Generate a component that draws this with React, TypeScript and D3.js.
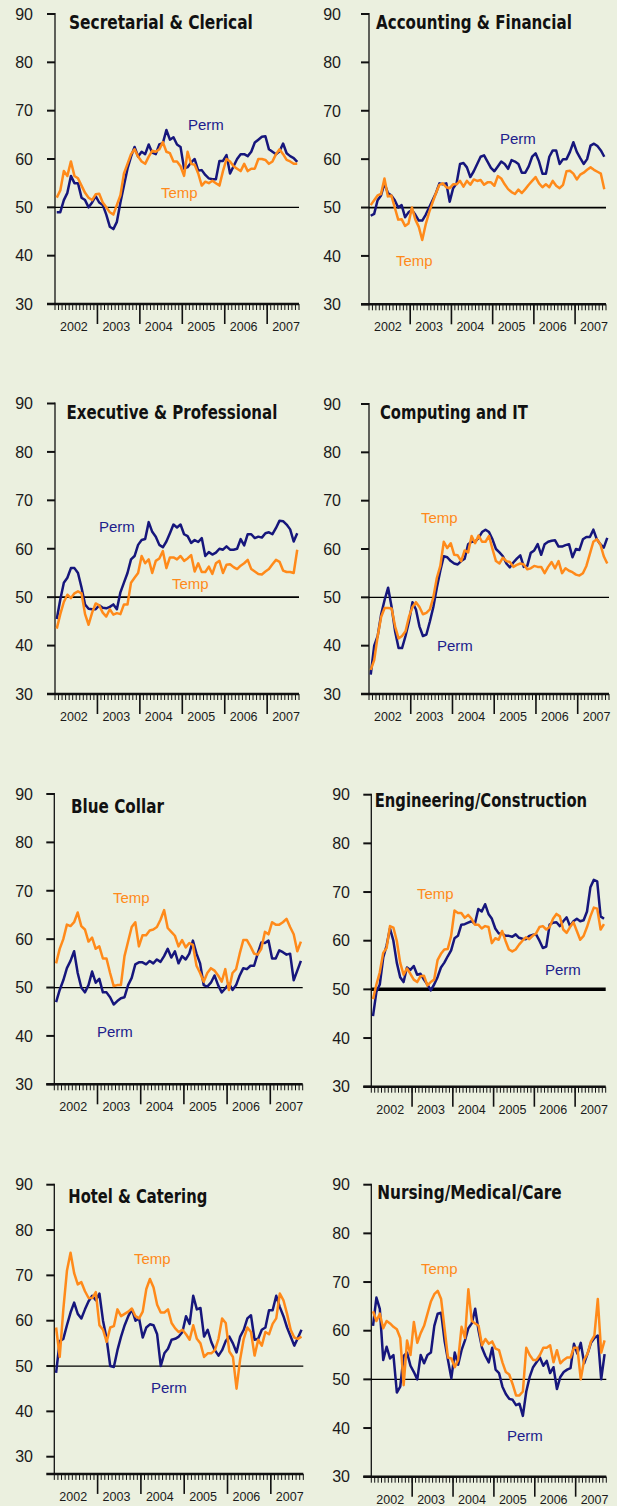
import React, { useEffect, useRef } from "react";
import * as d3 from "d3";

// Jan 2002 .. Sep 2007, one value per month (69)
const months = d3.timeMonth.range(new Date(2002, 0, 1), new Date(2007, 9, 1));
const years = ["2002", "2003", "2004", "2005", "2006", "2007"];
const yTicks = [30, 40, 50, 60, 70, 80, 90];

const titles = [
  "Secretarial & Clerical",
  "Accounting & Financial",
  "Executive & Professional",
  "Computing and IT",
  "Blue Collar",
  "Engineering/Construction",
  "Hotel & Catering",
  "Nursing/Medical/Care",
];

const permSecretarial = [49, 49, 51.5, 53, 56.5, 55, 55, 52, 51.5, 50, 51, 52.3, 51, 50.5, 48.5, 46, 45.5, 47, 51, 54.5, 58, 60.5, 62.5, 60.5, 61.5, 61, 63, 61.3, 61, 63, 63.3, 66, 64, 64.5, 63, 62.5, 58, 58.3, 59.3, 60, 57.6, 57.7, 56.7, 56, 55.8, 55.8, 59.6, 59.6, 60.8, 57, 58.5, 60, 61, 61, 60.6, 61.5, 63.4, 64, 64.6, 64.7, 62, 61.5, 61, 61.6, 63.2, 61.2, 60.6, 60.2, 59.4];
const tempSecretarial = [52, 53.5, 57.5, 56.5, 59.5, 56.5, 56, 54.5, 53, 52, 51.5, 52.7, 52.8, 51, 50, 49, 48.5, 50.5, 52.5, 57, 59, 61, 62, 60.5, 59.5, 59, 60.5, 61.7, 61.5, 62, 63.5, 61.5, 61.2, 59.5, 59.5, 58.5, 56.5, 61.5, 59, 58.8, 57, 54.5, 55.3, 55, 55.5, 55, 54.5, 57.5, 60, 59.5, 58.5, 58, 57.5, 59, 57.5, 58, 58, 60, 60, 59.8, 59, 59.5, 61, 62, 61, 59.8, 59.5, 59, 59];

const permAccounting = [48.3, 48.7, 51.5, 52.5, 55, 53, 52.5, 51.5, 50, 50.5, 48, 49, 49.5, 48.5, 47.3, 47.3, 48.5, 50, 51.5, 53, 55, 54.8, 55, 51.2, 54, 55, 59, 59.2, 58.3, 56.3, 57.5, 59, 60.5, 60.8, 59.5, 58.2, 57.5, 58.5, 59.5, 59, 58, 59.8, 59.5, 59, 57.2, 57.2, 58.5, 60.5, 61.2, 59.5, 57, 57, 60.5, 61.8, 61.8, 59, 60, 60, 61.5, 63.5, 61.5, 60.2, 59, 60, 62.8, 63.2, 62.7, 61.8, 60.5];
const tempAccounting = [50.5, 51.5, 52.5, 52.8, 56, 52.3, 52.5, 50, 47.5, 47.6, 46.2, 46.7, 50, 47.5, 46, 43.3, 46.5, 49, 51, 53, 54.7, 55, 54.2, 54, 54.8, 54.8, 55.5, 54.3, 55.5, 54.7, 55.8, 55.5, 55.7, 54.7, 55.2, 55.2, 54.5, 56.5, 56, 54.8, 53.8, 53.2, 52.8, 53.7, 53, 53.8, 54.7, 55.5, 56.3, 55, 54.2, 54.8, 54.2, 55.5, 54.5, 54, 54.7, 57.5, 57.6, 57, 55.8, 56.8, 57.2, 57.8, 58.3, 57.8, 57.4, 57, 53.8];

const permExecutive = [45.5, 49.5, 53, 54, 56, 56, 55, 52, 48.5, 47.6, 47.5, 47.5, 48.3, 47.8, 47.7, 48, 48.5, 47.5, 51, 53, 55, 57.8, 58.5, 60.8, 61.8, 62, 65.5, 63.5, 62.5, 60.8, 60.3, 61.5, 63.2, 65, 64.4, 65, 63, 62.6, 61.2, 61.8, 61.4, 62.2, 58.5, 59.3, 58.8, 59.2, 60, 59.8, 60.5, 59.8, 59.8, 60, 62, 60.7, 63, 63, 62.2, 62.5, 62.3, 63.2, 63.4, 63, 64.3, 65.8, 65.7, 65, 64, 61.5, 63.2];
const tempExecutive = [43.5, 46.5, 49, 50.5, 49.8, 50.8, 51.2, 50.8, 46.5, 44.3, 46.8, 48.7, 48.3, 46.8, 46, 47.5, 46.4, 46.7, 46.5, 48.5, 48.5, 53, 54, 55, 58.5, 57, 57.8, 55, 57.5, 58, 59.5, 56, 58.2, 58.2, 57.8, 58.5, 57.5, 58, 58.7, 55.3, 57, 55.2, 55.2, 56.3, 54.8, 57, 57.5, 55, 56.7, 56.8, 56.2, 55.8, 56.5, 57, 57.7, 55.8, 55.3, 54.8, 54.7, 55.3, 55.8, 56.8, 57.7, 57.3, 55.5, 55.2, 55.2, 55, 59.8];

const permComputing = [34, 40, 42, 46.5, 49.5, 52, 48, 43, 39.5, 39.5, 42, 45, 49, 47.5, 44, 42, 42.3, 45, 48, 52, 55.5, 58.5, 58.3, 57.5, 57, 56.8, 57.5, 58, 61, 61.5, 61.5, 62.3, 63.5, 64, 63.5, 62, 60, 59.3, 58.5, 57, 56.2, 57.2, 58, 58.7, 56.3, 56.5, 59.2, 59.7, 61, 58.8, 61, 61.5, 61.7, 61.8, 60.5, 60.5, 60.8, 61, 58.3, 60, 59.8, 62, 62.5, 62.5, 64, 62, 61, 60.3, 62.3];
const tempComputing = [35, 37, 42, 46, 47.8, 47.8, 47.7, 44, 41.5, 42, 43, 46, 48, 49, 48, 46.5, 46.8, 47.5, 50, 54, 56.5, 61.5, 60.2, 61.2, 58.8, 58.7, 57.5, 59.7, 59.3, 62.7, 61.2, 62.8, 61.5, 61.5, 62.7, 60, 57.5, 57, 58.2, 57.5, 57.3, 56.3, 56.7, 57, 56.8, 55.8, 56, 56.5, 56.3, 56.3, 55, 56.3, 57.3, 56, 57.5, 55, 56, 55.5, 55.2, 54.7, 54.5, 55, 56.5, 59, 61.5, 62, 61, 58.5, 57];

const permBlueCollar = [47, 49.5, 51.5, 54, 55.5, 57.5, 53, 50, 49, 50.5, 53.3, 51, 51.8, 49, 49, 48, 46.5, 47.2, 47.8, 48, 50.5, 52, 54.8, 55.2, 55.2, 54.8, 55.5, 55, 55.8, 55.3, 56.5, 58, 56.2, 57.5, 55, 56.5, 55.8, 57, 59.7, 57, 55, 50.5, 50.2, 51, 52.5, 50.5, 49, 49.8, 50.8, 49.5, 50.5, 52.5, 54, 53.8, 54.5, 54.5, 57, 59.3, 59.2, 59.7, 56, 56, 57.7, 57.3, 56.8, 57, 51.5, 53.5, 55.5];
const tempBlueCollar = [55, 58, 60, 63, 62.7, 63.5, 65.5, 62.7, 62, 59.5, 60.3, 58, 58.5, 56, 56, 53, 50.3, 50.5, 50.5, 56.5, 59.5, 62.5, 63.5, 58.5, 60.8, 60.8, 61.8, 62, 62.5, 64, 66, 62.3, 61.5, 60.7, 58.5, 59.8, 58.3, 59.2, 58.8, 54.5, 53, 51.2, 53, 54, 53.5, 52.5, 51.2, 53.8, 49.5, 53, 53.8, 57, 59.8, 59.8, 58.5, 57, 56.8, 58, 61.5, 61, 63.5, 63, 63, 63.5, 64.2, 62.5, 61, 57.5, 59.5];

const permEngineering = [44.5, 49.5, 51, 56.5, 59, 62.5, 60, 55.5, 52.5, 51.5, 54.5, 54, 54.8, 53, 53.2, 52, 51, 49.8, 51, 52.5, 54.5, 55.5, 56.8, 58, 60.5, 61, 63.3, 63.4, 63.7, 64, 63.5, 66.5, 66, 67.5, 65.5, 64.5, 62.5, 61.5, 61.5, 61, 61, 60.8, 61.3, 60.6, 60.4, 60.3, 61, 61.2, 61.3, 60, 58.5, 58.8, 63.3, 63.7, 63.8, 63, 64, 64.8, 63, 64, 64.5, 64, 64.2, 66, 71, 72.5, 72.2, 65, 64.5];
const tempEngineering = [48, 51, 53.5, 57.5, 58.5, 63, 62.7, 60, 55.5, 53, 54.3, 53.2, 52, 51.5, 52.7, 52.8, 50.8, 51.5, 52, 56, 57.3, 58.2, 58.3, 61, 66.2, 65.7, 65.7, 64.7, 65.3, 64.5, 63.3, 63.3, 62.5, 63, 62.8, 59.5, 60.5, 60.2, 62, 60, 58.2, 57.8, 58.2, 59.2, 60, 60.7, 60.3, 61, 61.5, 62.8, 63, 62.3, 62.8, 64.5, 65.5, 65, 62.3, 61.6, 62.8, 63.8, 62, 60.2, 61, 62.8, 65, 66.8, 66.6, 62.3, 63.4];

const permHotel = [48.5, 55.5, 56, 59, 61.8, 64, 61.5, 60.5, 62.5, 64.3, 65.5, 64.5, 66, 60, 56, 50, 49.8, 53.5, 56.5, 59, 61, 62.5, 60, 60.5, 56.3, 58.5, 59.2, 59, 57, 50, 52.8, 53.8, 55.8, 56, 56.5, 57.5, 61, 59.3, 65.5, 62.5, 62.8, 56.5, 58, 55.3, 53.5, 52.3, 53.5, 55.5, 56.5, 55, 53, 56.5, 58, 60.5, 61.2, 55.8, 56, 58, 58.5, 62.3, 62.3, 65.5, 63, 61, 58.5, 56.5, 54.5, 56.2, 58];
const tempHotel = [58.5, 52, 62.5, 71, 75, 70.5, 68, 68.5, 66.5, 65, 65, 66.3, 59, 58, 55.3, 58.5, 58.8, 62.5, 61, 61.5, 62, 62.7, 61, 60.5, 62, 67, 69.2, 67.3, 63.5, 61.8, 61.8, 62.5, 59.5, 58.3, 57.5, 58, 57, 55.8, 59, 56, 55, 52, 52.8, 52.8, 53.5, 56, 60.5, 59.5, 53.2, 52, 45, 51.5, 56, 58.5, 57.5, 52.3, 55.8, 54.5, 57.5, 57, 59.3, 60.5, 66, 64.5, 61.5, 58, 56.3, 56, 56.5];

const permNursing = [61, 66.8, 64.5, 54, 56.7, 54.3, 55, 47.3, 48.5, 54.8, 55.5, 52.8, 51.5, 50, 55, 53.3, 55, 55.5, 61, 63.5, 63.7, 58, 54, 50.2, 55.5, 53, 56, 58, 60.5, 61.5, 64.5, 60, 56.5, 54.8, 53.5, 56.5, 52, 51.3, 48.5, 47, 46, 45.8, 44.7, 45, 42.5, 47.5, 50.5, 52.5, 53.5, 54.5, 52.8, 53.8, 51.3, 52.5, 48, 50.5, 51.5, 52, 52.3, 57.3, 55.3, 57.5, 53.3, 55.3, 57.5, 58.5, 59, 50, 55.2];
const tempNursing = [64, 62, 63.5, 60.5, 62, 61.5, 60.8, 60.3, 58.5, 48.8, 58, 55, 61.8, 57.5, 59.5, 61, 63.5, 66, 67.5, 68.2, 66.5, 60.5, 54.5, 54.3, 52.5, 54, 60.8, 58.5, 68.5, 62, 61.5, 61, 57, 58.3, 57.3, 57.8, 56.3, 56, 53.5, 51.5, 51, 49, 46.7, 46.7, 47.5, 56.5, 55, 54, 54, 55, 56.5, 56.5, 57, 53.5, 56, 53.3, 54, 54.5, 54.5, 56.5, 56.5, 50, 54, 55.3, 57.8, 59, 66.5, 55.5, 58];

const permSeries = [permSecretarial, permAccounting, permExecutive, permComputing, permBlueCollar, permEngineering, permHotel, permNursing];
const tempSeries = [tempSecretarial, tempAccounting, tempExecutive, tempComputing, tempBlueCollar, tempEngineering, tempHotel, tempNursing];

// layout of each panel in page pixels
const layout = [
  { axisX: 55, endX: 299, y90: 14, y30: 304, floor: 30, labelR: 33, tx: 69, ty: 29, tw: 184, ref: 1.2, perm: [188, 130], temp: [161, 198] },
  { axisX: 369, endX: 606, y90: 14, y30: 304.3, floor: 30, labelR: 341, tx: 376, ty: 28.5, tw: 196, ref: 1.8, perm: [500, 144], temp: [396, 266] },
  { axisX: 55, endX: 299, y90: 403.5, y30: 694, floor: 30, labelR: 33, tx: 66.5, ty: 418.5, tw: 211, ref: 1.8, perm: [99, 532], temp: [172, 589] },
  { axisX: 369, endX: 609, y90: 404, y30: 694, floor: 30, labelR: 341, tx: 380, ty: 418.5, tw: 148, ref: 1.2, perm: [437, 651], temp: [421, 523] },
  { axisX: 54.3, endX: 302.7, y90: 794, y30: 1084.3, floor: 30, labelR: 33, tx: 71, ty: 812.5, tw: 93, ref: 1.2, perm: [97, 1037], temp: [113, 903] },
  { axisX: 371.3, endX: 605.7, y90: 794.7, y30: 1086.7, floor: 30, labelR: 350, tx: 374.7, ty: 806.5, tw: 212.5, ref: 3.5, perm: [545, 975], temp: [417, 899] },
  { axisX: 54.3, endX: 303.3, y90: 1184.7, y30: 1456.7, floor: 26.2, labelR: 33, tx: 68.3, ty: 1202.5, tw: 139, ref: 1.2, perm: [151, 1393], temp: [134, 1264] },
  { axisX: 371.3, endX: 606.3, y90: 1184.7, y30: 1476.7, floor: 30, labelR: 350, tx: 377.3, ty: 1198.5, tw: 184.5, ref: 1.2, perm: [507, 1441], temp: [421, 1274] },
];

const BG = "#ebf0df";
const PERM = "#16167c";
const TEMP = "#ff8a1a";
const FONT = "'Liberation Sans', Arial, Helvetica, sans-serif";

const App: React.FC = () => {
  const svgRef = useRef<SVGSVGElement>(null);

  useEffect(() => {
    const svg = d3.select(svgRef.current);
    svg.selectAll("*").remove();

    svg.append("rect").attr("width", 617).attr("height", 1506).attr("fill", BG);

    layout.forEach((p, k) => {
      const g = svg.append("g");
      const y = d3.scaleLinear().domain([30, 90]).range([p.y30, p.y90]);
      const x = d3
        .scaleBand<number>()
        .domain(d3.range(months.length))
        .range([p.axisX, p.endX]);
      const bw = x.bandwidth();
      const axisY = y(p.floor);

      // title, squeezed horizontally to the condensed width of the original
      const title = g
        .append("text")
        .attr("x", 0)
        .attr("y", 0)
        .style("font-family", "'Liberation Sans Narrow', 'Arial Narrow', 'DejaVu Sans Condensed', sans-serif")
        .style("font-weight", "bold")
        .style("font-size", "19px")
        .attr("fill", "#111")
        .text(titles[k]);
      const natural = (title.node() as SVGTextElement).getComputedTextLength() || p.tw;
      title.attr("transform", `translate(${p.tx},${p.ty}) scale(${p.tw / natural},1)`);

      // y axis
      g.append("line")
        .attr("x1", p.axisX)
        .attr("x2", p.axisX)
        .attr("y1", y(90) - 1)
        .attr("y2", axisY)
        .attr("stroke", "#111")
        .attr("stroke-width", 1.3);

      g.selectAll(".ytick")
        .data(yTicks)
        .enter()
        .append("line")
        .attr("x1", p.axisX - 8)
        .attr("x2", p.axisX)
        .attr("y1", d => y(d))
        .attr("y2", d => y(d))
        .attr("stroke", "#111")
        .attr("stroke-width", 2);

      g.selectAll(".ylab")
        .data(yTicks)
        .enter()
        .append("text")
        .attr("x", p.labelR)
        .attr("y", d => y(d))
        .attr("dy", "0.36em")
        .attr("text-anchor", "end")
        .style("font-family", FONT)
        .style("font-size", "16px")
        .attr("fill", "#1a1a1a")
        .text(d => d);

      // x axis bar + month ticks
      g.append("line")
        .attr("x1", p.axisX - 8)
        .attr("x2", p.endX)
        .attr("y1", axisY)
        .attr("y2", axisY)
        .attr("stroke", "#111")
        .attr("stroke-width", 2.6);

      g.selectAll(".mtick")
        .data(d3.range(months.length + 1))
        .enter()
        .append("line")
        .attr("x1", i => p.axisX + i * bw)
        .attr("x2", i => p.axisX + i * bw)
        .attr("y1", axisY)
        .attr("y2", axisY + 6)
        .attr("stroke", "#111")
        .attr("stroke-width", 1);

      const yearStarts = months
        .map((m, i) => ({ m, i }))
        .filter(d => d.m.getMonth() === 0);

      g.selectAll(".ymajor")
        .data(yearStarts.filter(d => d.i > 0))
        .enter()
        .append("line")
        .attr("x1", d => p.axisX + d.i * bw)
        .attr("x2", d => p.axisX + d.i * bw)
        .attr("y1", axisY)
        .attr("y2", axisY + 20)
        .attr("stroke", "#111")
        .attr("stroke-width", 1.6);

      g.selectAll(".yearlab")
        .data(yearStarts)
        .enter()
        .append("text")
        .attr("x", d => p.axisX + d.i * bw + 5)
        .attr("y", axisY + 27)
        .style("font-family", FONT)
        .style("font-size", "12.5px")
        .attr("fill", "#1a1a1a")
        .text((d, j) => years[j]);

      // 50 reference line
      g.append("line")
        .attr("x1", p.axisX)
        .attr("x2", p.endX)
        .attr("y1", y(50))
        .attr("y2", y(50))
        .attr("stroke", "#000")
        .attr("stroke-width", p.ref);

      const line = d3
        .line<number>()
        .x((d, i) => (x(i) as number) + bw / 2)
        .y(d => y(d));

      g.append("path")
        .attr("d", line(permSeries[k]))
        .attr("fill", "none")
        .attr("stroke", PERM)
        .attr("stroke-width", 2.5)
        .attr("stroke-linejoin", "round");

      g.append("path")
        .attr("d", line(tempSeries[k]))
        .attr("fill", "none")
        .attr("stroke", TEMP)
        .attr("stroke-width", 2.5)
        .attr("stroke-linejoin", "round");

      // series labels
      g.append("text")
        .attr("x", p.perm[0])
        .attr("y", p.perm[1])
        .style("font-family", FONT)
        .style("font-size", "15px")
        .attr("fill", "#20208c")
        .text("Perm");

      g.append("text")
        .attr("x", p.temp[0])
        .attr("y", p.temp[1])
        .style("font-family", FONT)
        .style("font-size", "15px")
        .attr("fill", TEMP)
        .text("Temp");
    });
  }, []);

  return (
    <div>
      <svg
        ref={svgRef}
        width={617}
        height={1506}
        style={{ position: "absolute", left: 0, top: 0, display: "block" }}
      ></svg>
    </div>
  );
};

export default App;
